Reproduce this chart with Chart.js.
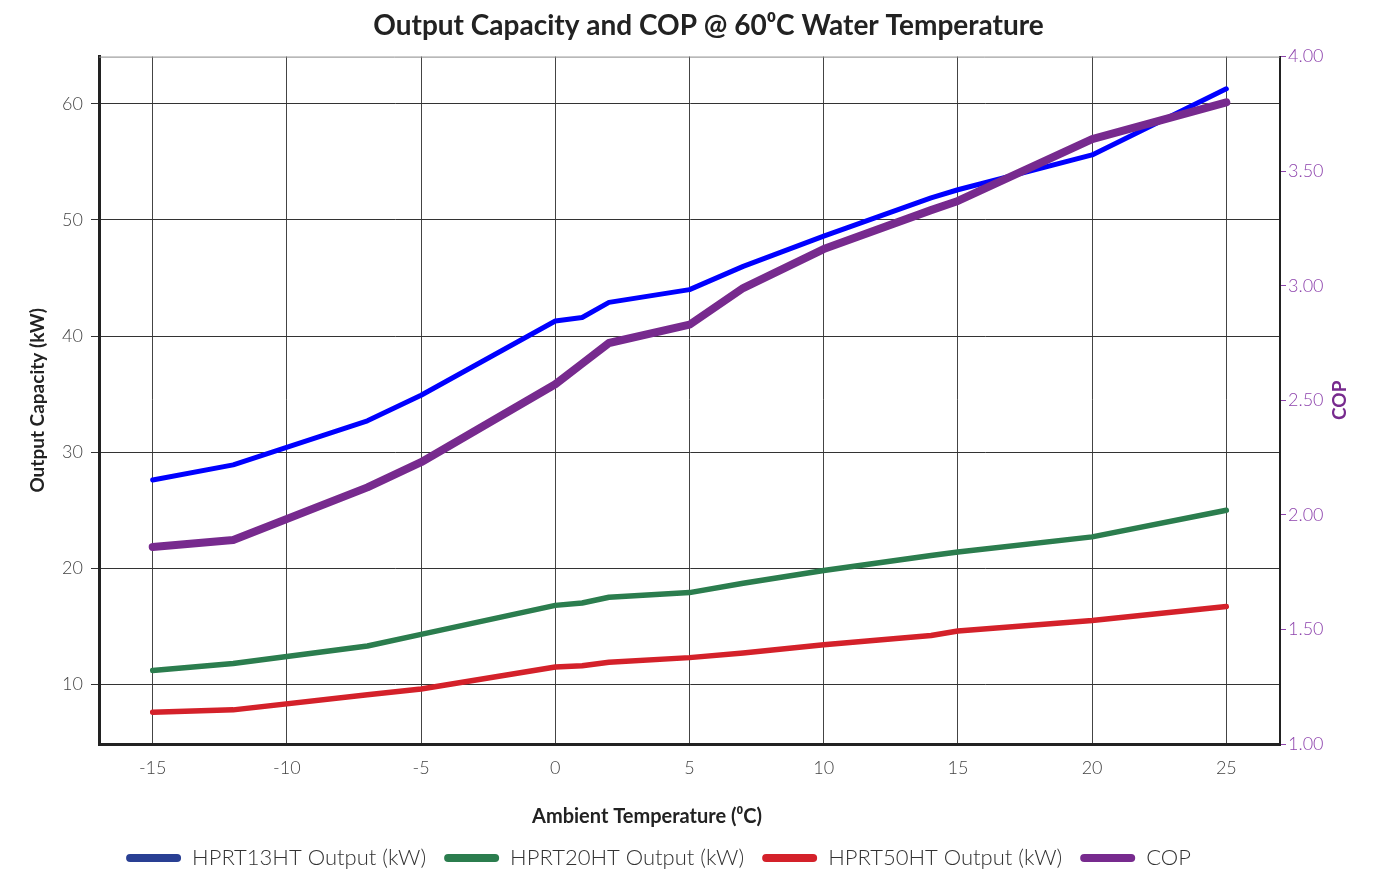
<!DOCTYPE html>
<html>
<head>
<meta charset="utf-8">
<title>Output Capacity and COP</title>
<script src="https://cdn.jsdelivr.net/npm/chart.js@4.4.1/dist/chart.umd.min.js"></script>
<style>
  html, body { margin: 0; padding: 0; background: #fff; }
  #wrap { width: 1383px; height: 871px; }
</style>
</head>
<body>
<div id="wrap"><canvas id="grafico"></canvas></div>
<script>
// Dados
const temperaturas = [-15, -12, -7, -5, 0, 1, 2, 5, 7, 10, 14, 15, 20, 25];
const hprt13ht = [27.6, 28.9, 32.7, 34.9, 41.3, 41.6, 42.9, 44.0, 46.0, 48.6, 51.9, 52.6, 55.6, 61.3];
const hprt20ht = [11.2, 11.8, 13.3, 14.3, 16.8, 17.0, 17.5, 17.9, 18.7, 19.8, 21.1, 21.4, 22.7, 25.0];
const hprt50ht = [7.6, 7.8, 9.1, 9.6, 11.5, 11.6, 11.9, 12.3, 12.7, 13.4, 14.2, 14.6, 15.5, 16.7];
const cop = [1.86, 1.89, 2.12, 2.23, 2.57, 2.66, 2.75, 2.83, 2.99, 3.16, 3.33, 3.37, 3.64, 3.80];

const titulo = 'Output Capacity and COP @ 60\u2070C Water Temperature';
const tituloX = 'Ambient Temperature (\u2070C)';
const tituloY = 'Output Capacity (kW)';
const tituloY1 = 'COP';
const legendas = ['HPRT13HT Output (kW)', 'HPRT20HT Output (kW)', 'HPRT50HT Output (kW)', 'COP'];

const corLinhas = ['#0000ff', '#2b7d4e', '#d4212a', '#772a8e'];
const corLegenda = ['#293f93', '#2b7d4e', '#d4212a', '#772a8e'];
const espessuras = [5, 5.5, 5.5, 8];

function pontos(valores) {
    return temperaturas.map((t, i) => ({ x: t, y: valores[i] }));
}

// ajustes: título e legenda deslocados como no original, borda superior,
// título do eixo x (fora do centro) e título do eixo direito (de baixo para cima)
const extras = {
    id: 'extras',
    afterLayout(chart) {
        if (chart.legend) { chart.legend.left -= 33; chart.legend.right -= 33; }
        if (chart.titleBlock) { chart.titleBlock.left += 17; chart.titleBlock.right += 17; }
    },
    afterDraw(chart) {
        const { ctx, chartArea } = chart;
        ctx.save();
        ctx.strokeStyle = '#888';
        ctx.lineWidth = 1;
        ctx.beginPath();
        ctx.moveTo(chartArea.left, chartArea.top + 0.5);
        ctx.lineTo(chartArea.right, chartArea.top + 0.5);
        ctx.stroke();

        ctx.textAlign = 'center';
        ctx.textBaseline = 'middle';
        ctx.fillStyle = '#222';
        ctx.font = 'bold 20px Lato, sans-serif';
        ctx.fillText(tituloX, 647, 817);

        ctx.translate(1340, (chartArea.top + chartArea.bottom) / 2);
        ctx.rotate(-Math.PI / 2);
        ctx.fillStyle = '#772a8e';
        ctx.font = 'bold 19px Lato, sans-serif';
        ctx.fillText(tituloY1, 0, 0);
        ctx.restore();
    }
};

const multiplo = (passo) => (scale) => {
    scale.ticks = scale.ticks.filter(t => Math.abs(t.value / passo - Math.round(t.value / passo)) < 1e-6);
};

const fonteTicks = { family: 'Lato, sans-serif', size: 18, weight: '300' };

new Chart(document.getElementById('grafico'), {
    type: 'line',
    data: {
        datasets: [
            { label: legendas[0], data: pontos(hprt13ht), yAxisID: 'y', order: 1 },
            { label: legendas[1], data: pontos(hprt20ht), yAxisID: 'y', order: 1 },
            { label: legendas[2], data: pontos(hprt50ht), yAxisID: 'y', order: 1 },
            { label: legendas[3], data: pontos(cop), yAxisID: 'y1', order: 0 }
        ].map((d, i) => Object.assign(d, {
            borderColor: corLinhas[i],
            backgroundColor: corLegenda[i],
            borderWidth: espessuras[i],
            borderCapStyle: 'round',
            borderJoinStyle: 'round',
            pointRadius: 0,
            tension: 0,
            fill: false
        }))
    },
    options: {
        responsive: true,
        maintainAspectRatio: false,
        animation: false,
        layout: { padding: { left: 0, right: 0, top: 0, bottom: -8 } },
        plugins: {
            title: {
                display: true,
                text: titulo,
                color: '#222',
                font: { family: 'Lato, sans-serif', size: 28, weight: 'bold' },
                padding: { top: 9, bottom: 14 }
            },
            legend: {
                position: 'bottom',
                labels: {
                    color: '#333',
                    font: { family: 'Lato, sans-serif', size: 22, weight: '300' },
                    boxWidth: 55,
                    boxHeight: 8,
                    useBorderRadius: true,
                    borderRadius: 4,
                    padding: 18,
                    generateLabels(chart) {
                        return chart.data.datasets.map((d, i) => ({
                            text: d.label,
                            fillStyle: corLegenda[i],
                            strokeStyle: corLegenda[i],
                            lineWidth: 0,
                            borderRadius: 4,
                            hidden: !chart.isDatasetVisible(i),
                            datasetIndex: i,
                            fontColor: '#333'
                        }));
                    }
                }
            },
            tooltip: { enabled: false }
        },
        scales: {
            x: {
                type: 'linear',
                min: -17,
                max: 27,
                afterBuildTicks: multiplo(5),
                afterFit(scale) { scale.height = 85; },
                ticks: { stepSize: 5, color: '#444', font: fonteTicks, padding: 13 },
                grid: { color: '#444', lineWidth: 1, drawTicks: false },
                border: { color: '#222', width: 3 },
                title: { display: false }
            },
            y: {
                type: 'linear',
                position: 'left',
                min: 4.86,
                max: 64.07,
                afterBuildTicks: multiplo(10),
                afterFit(scale) { scale.width = 99; },
                ticks: { stepSize: 10, color: '#444', font: fonteTicks, padding: 8 },
                grid: { color: '#333', lineWidth: 1, tickLength: 8, drawTicks: true },
                border: { color: '#222', width: 3 },
                title: {
                    display: true,
                    text: tituloY,
                    color: '#222',
                    font: { family: 'Lato, sans-serif', size: 19, weight: 'bold' },
                    padding: { top: 26, bottom: 0 }
                }
            },
            y1: {
                type: 'linear',
                position: 'right',
                min: 1,
                max: 4,
                afterFit(scale) { scale.width = 103; },
                ticks: {
                    stepSize: 0.5,
                    color: '#8e44ad',
                    font: fonteTicks,
                    padding: 2,
                    callback: v => v.toFixed(2)
                },
                grid: { drawOnChartArea: false, color: '#8e44ad', tickLength: 6 },
                border: { color: '#222', width: 2 }
            }
        }
    },
    plugins: [extras]
});
</script>
</body>
</html>
